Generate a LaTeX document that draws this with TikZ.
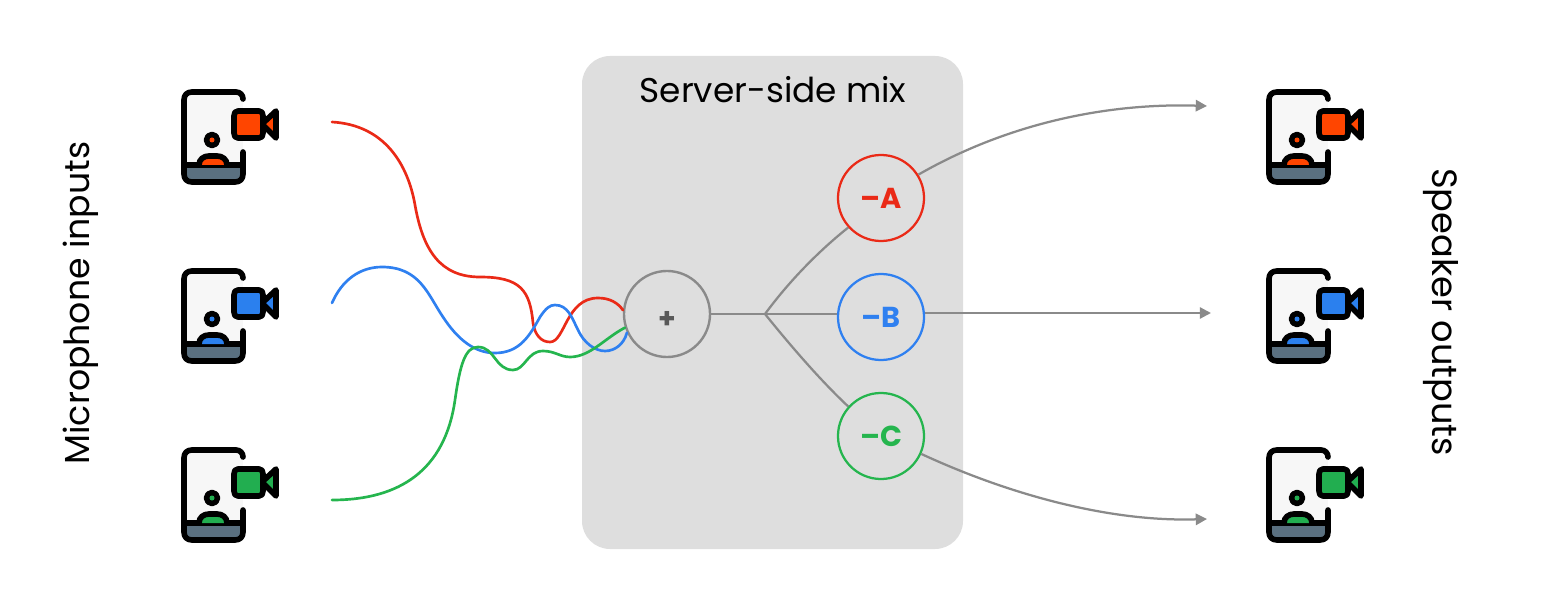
\documentclass[tikz,border=0pt]{standalone}
\usepackage{xcolor}
\usepackage{fontspec}
\setmainfont{Poppins}
\usetikzlibrary{arrows.meta}
\definecolor{mixgray}{HTML}{DEDEDE}
\definecolor{tapgray}{HTML}{8A8A8A}
\definecolor{wirered}{HTML}{EA2A17}
\definecolor{wireblue}{HTML}{2F80F0}
\definecolor{wiregreen}{HTML}{25B54E}
\definecolor{camred}{HTML}{FF4500}
\definecolor{camblue}{HTML}{2B80EE}
\definecolor{camgreen}{HTML}{22AE50}
\definecolor{deskslate}{HTML}{5A7080}
\tikzset{
  x=0.025cm,y=-0.025cm,
  wire/.style={line width=1.9pt,line cap=round},
  tap/.style={draw=tapgray,line width=1.6pt},
  feed/.style={tap,-{Triangle[length=8pt,width=8pt]}},
  sum/.style={circle,draw=tapgray,fill=mixgray,line width=1.7pt,minimum size=2.15cm,inner sep=0pt,font=\fontsize{20}{20}\selectfont\bfseries,text=black!65},
  minus/.style={circle,draw=#1,fill=mixgray,line width=1.6pt,minimum size=2.15cm,inner sep=0pt,text=#1,font=\fontsize{20.5}{20}\selectfont\bfseries},
  side label/.style={font=\fontsize{25}{30}\selectfont},
  stroke/.style={draw=black,line width=4pt,line cap=round,line join=round},
  pics/device/.style={code={
    \fill[black!3] (3,3) rectangle (62,90);
    \fill[deskslate] (3,76) -- (62,76) -- (62,85) .. controls (62,90) and (59,93) .. (54,93) -- (11,93) .. controls (6,93) and (3,90) .. (3,85) -- cycle;
    \draw[stroke] (3,76) -- (62,76);
    \draw[stroke] (62,10) .. controls (62,6) and (59,3) .. (55,3) -- (11,3) .. controls (6,3) and (3,6) .. (3,11)
      -- (3,85) .. controls (3,90) and (6,93) .. (11,93) -- (54,93) .. controls (59,93) and (62,90) .. (62,85) -- (62,63);
    \draw[stroke,fill=#1] (18,76) .. controls (18,70) and (23,67) .. (28,67) -- (36,67) .. controls (41,67) and (46,70) .. (46,76);
    \draw[stroke,fill=black] (31,51) circle (5.5);
    \fill[#1] (31,51) circle (2.5);
    \draw[stroke,fill=#1] (81,35) -- (95,22) -- (95,49) -- cycle;
    \draw[stroke,fill=#1] (57,22) -- (78,22) .. controls (81,22) and (82,24) .. (82,27) -- (82,44)
      .. controls (82,47) and (81,49) .. (78,49) -- (57,49) .. controls (54,49) and (53,47) .. (53,44)
      -- (53,27) .. controls (53,24) and (54,22) .. (57,22) -- cycle;
  }}
}
\begin{document}
\begin{tikzpicture}
  \useasboundingbox (0,0) rectangle (1560,610);
  \fill[mixgray,rounded corners=0.7cm] (582,56) rectangle (963,549);
  % people on both sides
  \foreach \y/\c in {89/camred,268/camblue,447/camgreen} {
    \pic at (181,\y) {device=\c};
    \pic at (1266,\y) {device=\c};
  }
  \node[side label,rotate=90,font=\fontsize{24.7}{30}\selectfont] (mics) at (81,303) {Microphone inputs};
  \node[side label,rotate=-90] (speakers) at (1441,312) {Speaker outputs};
  \node[side label,font=\fontsize{24.4}{30}\selectfont] (title) at (773,90) {Server-side mix};
  \node[sum] (mix) at (667,314) {\raisebox{-10pt}[0pt][0pt]{+}};
  \node[minus=wirered] (minusA) at (881,198) {--A};
  \node[minus=wireblue] (minusB) at (881,317) {--B};
  \node[minus=wiregreen] (minusC) at (881,436) {--C};
  \coordinate (inA) at (332,122);
  \coordinate (inB) at (332,303);
  \coordinate (inC) at (332,500);
  \coordinate (branch) at (765,314);
  \coordinate (outA) at (1207,106);
  \coordinate (outB) at (1211,313);
  \coordinate (outC) at (1207,519);
  % input wires
  \draw[wire,wirered] (inA) .. controls (385,125) and (408,165) .. (415,205)
    .. controls (423,250) and (440,277) .. (480,277)
    .. controls (520,277) and (530,290) .. (533,323)
    .. controls (535,335) and (541,342) .. (550,342)
    .. controls (565,342) and (566,298) .. (598,298)
    .. controls (610,298) and (618,303) .. (mix.175);
  \draw[wire,wireblue] (inB) .. controls (342,280) and (360,267) .. (382,267)
    .. controls (420,267) and (428,295) .. (443,317)
    .. controls (458,340) and (475,353) .. (495,353)
    .. controls (520,353) and (530,335) .. (540,317)
    .. controls (546,308) and (550,305) .. (555,305)
    .. controls (568,305) and (572,318) .. (578,330)
    .. controls (584,343) and (595,351) .. (605,351)
    .. controls (615,351) and (624,344) .. (mix.205);
  \draw[wire,wiregreen] (inC) .. controls (400,500) and (445,470) .. (455,400)
    .. controls (460,365) and (465,347) .. (478,347)
    .. controls (495,347) and (495,370) .. (513,370)
    .. controls (525,370) and (527,351) .. (543,351)
    .. controls (555,351) and (560,357) .. (570,357)
    .. controls (590,357) and (605,338) .. (mix.198);
  % outgoing lines
  \draw[tap] (mix) ++(43,0) -- (branch);
  \draw[tap] (branch) -- (minusB.180 |- branch);
  \draw[tap] (branch) .. controls (790,280) and (820,250) .. (minusA.222);
  \draw[tap] (branch) .. controls (790,345) and (820,380) .. (minusC.138);
  \draw[feed] (minusA.32) .. controls (1010,122) and (1110,103) .. (outA);
  \draw[feed] (minusB.0 |- outB) -- (outB);
  \draw[feed] (minusC.-24) .. controls (1010,495) and (1110,522) .. (outC);
\end{tikzpicture}
\end{document}
